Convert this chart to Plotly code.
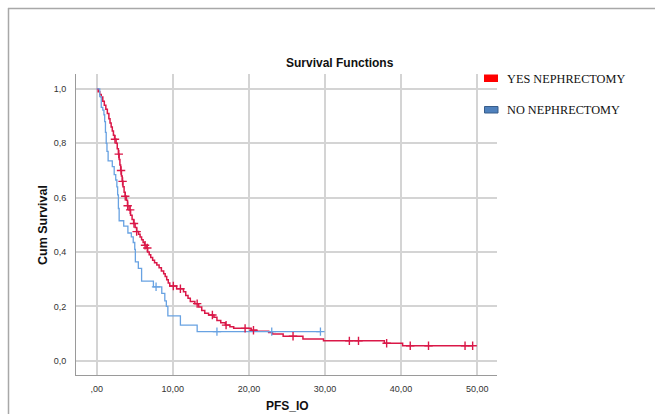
import numpy as np
import plotly.graph_objects as go

# ---- data ----
yes_t = [0.0, 0.2, 0.4, 0.6, 0.8, 1.0, 1.2, 1.4, 1.6, 1.75, 1.9, 2.05, 2.2, 2.35, 2.55,
         2.7, 2.85, 2.95, 3.05, 3.15, 3.25, 3.35, 3.45, 3.6, 3.75, 3.9, 4.05, 4.25, 4.45,
         4.65, 4.85, 5.05, 5.25, 5.5, 5.7, 5.9, 6.1, 6.3, 6.5, 6.7, 6.9, 7.1, 7.35, 7.6,
         7.9, 8.2, 8.5, 8.8, 9.0, 9.2, 9.4, 9.6, 10.5, 11.4, 11.7, 12.0, 12.3, 12.9, 13.4,
         13.8, 14.2, 14.7, 15.4, 15.8, 16.3, 16.9, 17.5, 18.0, 20.3, 21.0, 22.6, 23.1,
         24.5, 27.1, 29.8, 37.8, 40.2, 49.4]
yes_s = [1.0, 0.99, 0.98, 0.97, 0.955, 0.94, 0.925, 0.91, 0.89, 0.875, 0.86, 0.845, 0.83,
         0.815, 0.80, 0.78, 0.76, 0.74, 0.72, 0.70, 0.68, 0.66, 0.64, 0.62, 0.605, 0.59,
         0.57, 0.555, 0.535, 0.52, 0.505, 0.49, 0.475, 0.465, 0.455, 0.445, 0.435, 0.425,
         0.415, 0.40, 0.39, 0.38, 0.37, 0.36, 0.352, 0.342, 0.33, 0.32, 0.31, 0.298, 0.286,
         0.275, 0.265, 0.254, 0.24, 0.23, 0.218, 0.21, 0.198, 0.185, 0.175, 0.168, 0.16,
         0.148, 0.14, 0.131, 0.125, 0.119, 0.112, 0.108, 0.104, 0.098, 0.09, 0.08, 0.073,
         0.064, 0.055, 0.055]
yes_cens = [2.4, 2.9, 3.2, 3.4, 3.75, 4.07, 4.4, 4.9, 5.25, 6.35, 6.65, 10.07, 11.0, 13.2,
            15.2, 17.0, 19.5, 20.6, 25.8, 33.2, 34.4, 38.1, 41.2, 43.6, 48.4, 49.4]

no_t = [0.0, 0.4, 0.6, 0.8, 0.95, 1.05, 1.15, 1.25, 1.35, 1.5, 2.05, 2.3, 2.5, 2.65, 2.75,
        2.85, 2.95, 3.55, 4.1, 4.55, 4.8, 5.0, 5.08, 5.47, 5.9, 7.45, 8.55, 8.95, 9.15,
        9.35, 11.0, 13.2, 29.4]
no_s = [1.0, 0.972, 0.932, 0.922, 0.905, 0.88, 0.84, 0.80, 0.77, 0.735, 0.714, 0.685,
        0.665, 0.64, 0.61, 0.56, 0.515, 0.495, 0.47, 0.456, 0.435, 0.41, 0.364, 0.34,
        0.293, 0.272, 0.248, 0.22, 0.20, 0.165, 0.131, 0.107, 0.107]
no_cens = [7.8, 15.8, 23.0, 29.4]

x_ticks = [0, 10, 20, 30, 40, 50]
x_labels = [",00", "10,00", "20,00", "30,00", "40,00", "50,00"]
y_ticks = [0.0, 0.2, 0.4, 0.6, 0.8, 1.0]
y_labels = ["0,0", "0,2", "0,4", "0,6", "0,8", "1,0"]
legend_names = ["YES NEPHRECTOMY", "NO NEPHRECTOMY"]

RED = "rgb(218,24,72)"
BLUE = "rgb(104,162,226)"


def step_value(ts, ss, t):
    i = np.searchsorted(np.array(ts), t, side="right") - 1
    return ss[max(i, 0)]


W, H = 655, 414
L, R, T, B = 76, 497, 74, 375


def px(x):
    return (x - L) / (R - L)


def py(y):
    return (B - y) / (B - T)


fig = go.Figure()
fig.add_trace(go.Scatter(x=yes_t, y=yes_s, mode="lines", line=dict(color=RED, width=1.5, shape="hv"),
                         showlegend=False, hoverinfo="skip"))
fig.add_trace(go.Scatter(x=no_t, y=no_s, mode="lines", line=dict(color=BLUE, width=1.3, shape="hv"),
                         showlegend=False, hoverinfo="skip"))
fig.add_trace(go.Scatter(x=yes_cens, y=[step_value(yes_t, yes_s, t) for t in yes_cens], mode="markers",
                         marker=dict(symbol="cross-thin-open", size=6, color=RED,
                                     line=dict(color=RED, width=1.4)),
                         showlegend=False, hoverinfo="skip"))
fig.add_trace(go.Scatter(x=no_cens, y=[step_value(no_t, no_s, t) for t in no_cens], mode="markers",
                         marker=dict(symbol="cross-thin-open", size=6, color=BLUE,
                                     line=dict(color=BLUE, width=1.3)),
                         showlegend=False, hoverinfo="skip"))

axis_common = dict(showgrid=True, gridcolor="#d4d4d4", gridwidth=1.5, zeroline=False,
                   showline=True, linecolor="#9a9a9a", linewidth=1,
                   tickfont=dict(family="Liberation Sans, Arial", size=9, color="#333333"),
                   ticks="")
fig.update_xaxes(range=[-2.72, 52.6], tickvals=x_ticks, ticktext=x_labels,
                 ticklabelstandoff=5, **axis_common)
fig.update_yaxes(range=[-0.0526, 1.055], tickvals=y_ticks, ticktext=y_labels,
                 ticklabelstandoff=7, **axis_common)

ann = []
ann.append(dict(text="<b>Survival Functions</b>", x=px(340), y=py(63), xref="paper", yref="paper",
                xanchor="center", yanchor="middle", showarrow=False,
                font=dict(family="Liberation Sans, Arial", size=12, color="#111111")))
ann.append(dict(text="<b>Cum Survival</b>", x=px(43), y=py(225), xref="paper", yref="paper",
                xanchor="center", yanchor="middle", textangle=-90, showarrow=False,
                font=dict(family="Liberation Sans, Arial", size=12.5, color="#111111")))
ann.append(dict(text="<b>PFS_IO</b>", x=px(287), y=py(406), xref="paper", yref="paper",
                xanchor="center", yanchor="middle", showarrow=False,
                font=dict(family="Liberation Sans, Arial", size=12, color="#111111")))
ann.append(dict(text=legend_names[0], x=px(505), y=py(78.5), xref="paper", yref="paper",
                xanchor="left", yanchor="middle", showarrow=False,
                font=dict(family="Liberation Serif, Times New Roman", size=12.3, color="#111111")))
ann.append(dict(text=legend_names[1], x=px(505), y=py(110), xref="paper", yref="paper",
                xanchor="left", yanchor="middle", showarrow=False,
                font=dict(family="Liberation Serif, Times New Roman", size=12.3, color="#111111")))

shapes = []
shapes.append(dict(type="rect", xref="paper", yref="paper", x0=px(484), x1=px(498), y0=py(82), y1=py(74.5),
                   fillcolor="#ff0000", line=dict(width=0)))
shapes.append(dict(type="rect", xref="paper", yref="paper", x0=px(484.5), x1=px(498), y0=py(113), y1=py(106.5),
                   fillcolor="#4f81bd", line=dict(color="#385d8a", width=1)))
# outer frame lines (top and left)
shapes.append(dict(type="line", xref="paper", yref="paper", x0=px(8), x1=px(655), y0=py(8.5), y1=py(8.5),
                   line=dict(color="#a8a8a8", width=1.5)))
shapes.append(dict(type="line", xref="paper", yref="paper", x0=px(8.5), x1=px(8.5), y0=py(8), y1=py(414),
                   line=dict(color="#a8a8a8", width=1.5)))

fig.update_layout(width=W, height=H, margin=dict(l=L, r=W - R, t=T, b=H - B),
                  plot_bgcolor="white", paper_bgcolor="white",
                  annotations=ann, shapes=shapes, showlegend=False)

fig.write_html("out.html")
